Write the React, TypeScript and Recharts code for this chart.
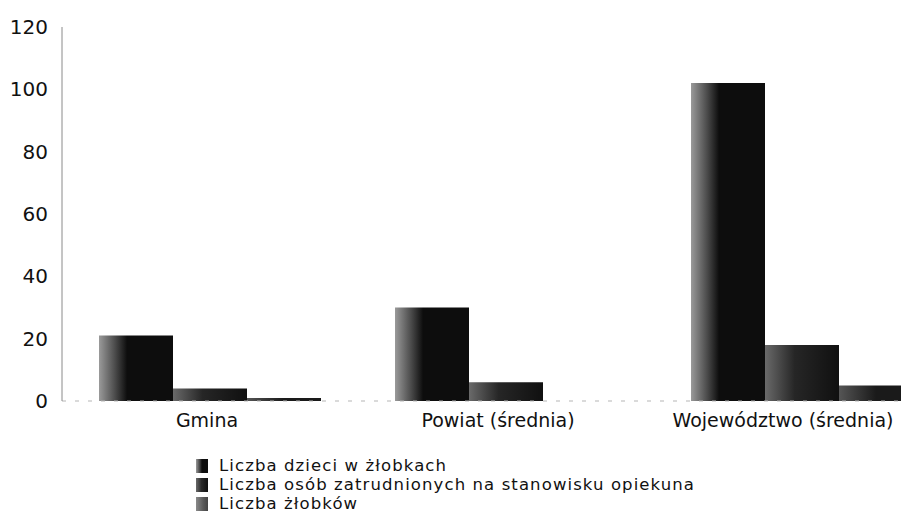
import React from "react";
import { BarChart, Bar, XAxis, YAxis, Legend } from "recharts";

const categories = ["Gmina", "Powiat (średnia)", "Województwo (średnia)"];
const dzieci = [21, 30, 102];
const opiekunowie = [4, 6, 18];
const zlobki = [1, 0, 5];
const yTicks = [0, 20, 40, 60, 80, 100, 120];
const seriesNames = [
  "Liczba dzieci w żłobkach",
  "Liczba osób zatrudnionych na stanowisku opiekuna",
  "Liczba żłobków",
];
const labelShift = [-3, -8, -19];

const data = categories.map((name, i) => ({
  name,
  dzieci: dzieci[i],
  opiekunowie: opiekunowie[i],
  zlobki: zlobki[i],
}));

const FONT = "'DejaVu Sans', Verdana, sans-serif";
const fills = ["url(#g1)", "url(#g2)", "url(#g3)"];
const swatch = [
  "linear-gradient(90deg, #9a9a9a 0%, #3a3a3a 35%, #0d0d0d 50%, #0d0d0d 100%)",
  "linear-gradient(90deg, #6a6a6a 0%, #2a2a2a 45%, #101010 100%)",
  "linear-gradient(90deg, #8a8a8a 0%, #5a5a5a 60%, #444 100%)",
];

const LegendContent = () => (
  <div style={{ fontFamily: FONT, fontSize: 16.5, color: "#111", lineHeight: "19px", letterSpacing: "1.1px" }}>
    {seriesNames.map((n, i) => (
      <div key={n} style={{ display: "flex", alignItems: "center", whiteSpace: "nowrap", height: 19 }}>
        <span
          style={{
            display: "inline-block",
            width: 12,
            height: 14,
            background: swatch[i],
            marginRight: 11,
            flex: "none",
          }}
        />
        <span>{n}</span>
      </div>
    ))}
  </div>
);

const XTick = (props: any) => {
  const { x, y, payload } = props;
  const shift = labelShift[payload.index] ?? 0;
  return (
    <text
      x={x + shift}
      y={y}
      dy="0.71em"
      textAnchor="middle"
      fill="#111"
      fontSize={19}
      fontFamily={FONT}
    >
      {payload.value}
    </text>
  );
};

export default function App() {
  return (
    <div style={{ width: 901, height: 515, overflow: "hidden", position: "relative" }}>
      <BarChart
        width={945}
        height={515}
        data={data}
        margin={{ top: 19, right: 3, bottom: 82, left: 0 }}
        barCategoryGap="12.5%"
        barGap={0}
      >
        <defs>
          <linearGradient id="g1" x1="0" y1="0" x2="1" y2="0">
            <stop offset="0%" stopColor="#9a9a9a" />
            <stop offset="22%" stopColor="#4a4a4a" />
            <stop offset="38%" stopColor="#0d0d0d" />
            <stop offset="100%" stopColor="#0d0d0d" />
          </linearGradient>
          <linearGradient id="g2" x1="0" y1="0" x2="1" y2="0">
            <stop offset="0%" stopColor="#6a6a6a" />
            <stop offset="40%" stopColor="#262626" />
            <stop offset="100%" stopColor="#101010" />
          </linearGradient>
          <linearGradient id="g3" x1="0" y1="0" x2="1" y2="0">
            <stop offset="0%" stopColor="#555" />
            <stop offset="50%" stopColor="#1a1a1a" />
            <stop offset="100%" stopColor="#1a1a1a" />
          </linearGradient>
        </defs>
        <XAxis
          dataKey="name"
          height={40}
          tickLine={false}
          tickMargin={7}
          axisLine={{ stroke: "#b5b5b5", strokeDasharray: "4 9" }}
          tick={<XTick />}
          interval={0}
        />
        <YAxis
          width={54}
          domain={[0, 120]}
          ticks={yTicks}
          tickLine={false}
          tickMargin={8}
          axisLine={{ stroke: "#8a8a8a" }}
          tick={{ fill: "#111", fontSize: 20, fontFamily: FONT }}
        />
        <Legend
          layout="vertical"
          align="center"
          verticalAlign="middle"
          content={<LegendContent />}
          wrapperStyle={{ left: 188, top: 448, width: "auto", bottom: "auto" }}
        />
        <Bar dataKey="dzieci" name={seriesNames[0]} fill={fills[0]} isAnimationActive={false} />
        <Bar dataKey="opiekunowie" name={seriesNames[1]} fill={fills[1]} isAnimationActive={false} />
        <Bar dataKey="zlobki" name={seriesNames[2]} fill={fills[2]} isAnimationActive={false} />
      </BarChart>
    </div>
  );
}
